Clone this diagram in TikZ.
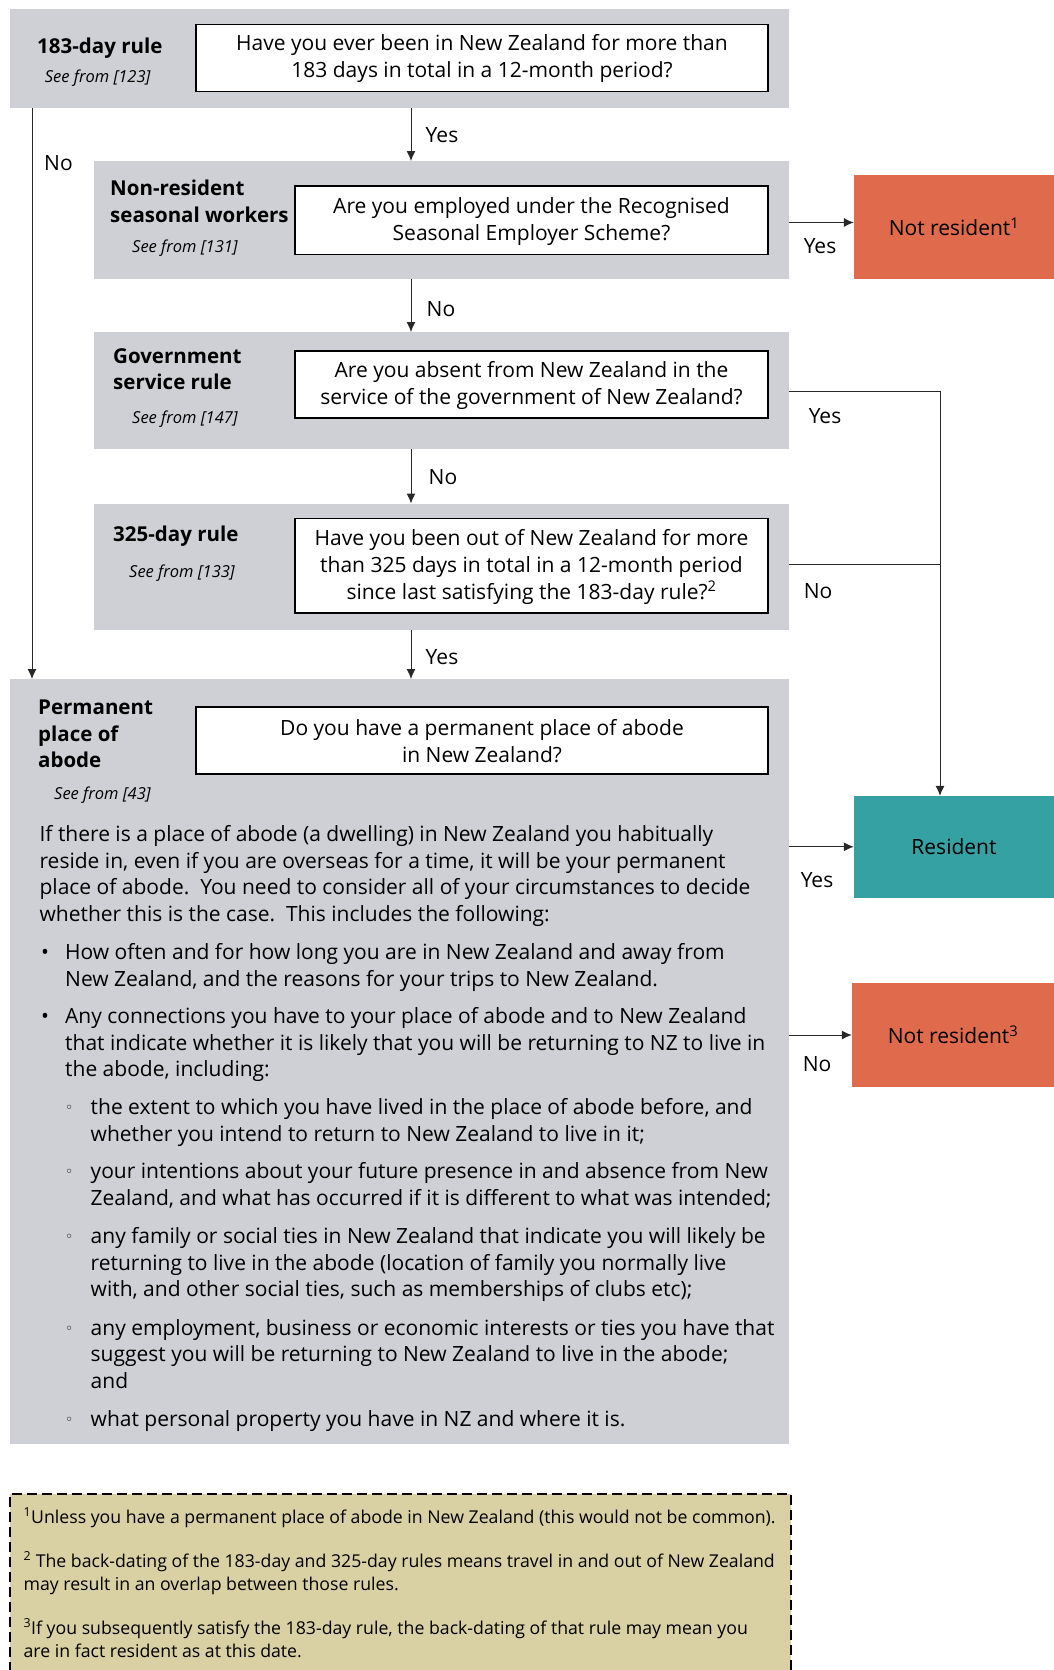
\documentclass[tikz,border=0pt]{standalone}
\usepackage{fontspec}
\setmainfont{Open Sans}
\newfontfamily\dejavu{DejaVu Sans}
\usetikzlibrary{arrows.meta}
\definecolor{gbox}{RGB}{206,208,213}
\definecolor{orng}{RGB}{224,107,76}
\definecolor{tealbox}{RGB}{54,161,162}
\definecolor{khaki}{RGB}{217,209,163}
\definecolor{lnc}{RGB}{40,40,40}
\begin{document}
\begin{tikzpicture}[x=1pt,y=-1pt,
  graybox/.style={fill=gbox, draw=none, anchor=north west, inner sep=0pt},
  qbox/.style={fill=white, draw=black, line width=1.4pt, inner sep=0pt, align=center,
     font=\fontsize{21}{27}\selectfont},
  outbox/.style={draw=none, inner sep=0pt, font=\fontsize{21}{24}\selectfont},
  head/.style={anchor=base west, inner sep=0pt, font=\fontsize{20.5}{24}\selectfont\bfseries},
  seefrom/.style={anchor=base west, inner sep=0pt, font=\fontsize{16.5}{18}\selectfont\itshape},
  lbl/.style={inner sep=0pt, font=\fontsize{21}{24}\selectfont},
  ptxt/.style={anchor=base west, inner sep=0pt, font=\fontsize{21}{24}\selectfont},
  circ/.style={anchor=base west, inner sep=0pt, font=\fontsize{14}{16}\selectfont\dejavu},
  ftxt/.style={anchor=base west, inner sep=0pt, font=\fontsize{17.7}{22}\selectfont},
  arr/.style={draw=lnc, line width=1pt, -{Latex[length=10pt,width=9pt]}},
  ln/.style={draw=lnc, line width=1pt}]
\useasboundingbox (0,0) rectangle (1054,1670);

% gray panels
\node[graybox, minimum width=779.4pt, minimum height=99pt] (g1) at (9.6,8.5) {};
\node[graybox, minimum width=695pt, minimum height=118pt] (g2) at (94,161) {};
\node[graybox, minimum width=695pt, minimum height=117pt] (g3) at (94,332) {};
\node[graybox, minimum width=695pt, minimum height=126.5pt] (g4) at (94,503.5) {};
\node[graybox, minimum width=779.4pt, minimum height=765pt] (g5) at (9.6,679) {};

% question boxes
\node[qbox, minimum width=572pt, minimum height=67pt] (q1) at (482,58)
  {\rule{0pt}{18pt}Have you ever been in New Zealand for more than\\183 days in total in a 12-month period?};
\node[qbox, minimum width=473pt, minimum height=68.5pt] (q2) at (531.5,220.2)
  {\rule{0pt}{18pt}Are you employed under the Recognised\\Seasonal Employer Scheme?};
\node[qbox, minimum width=473pt, minimum height=67pt] (q3) at (531.5,384.5)
  {\rule{0pt}{18pt}Are you absent from New Zealand in the\\service of the government of New Zealand?};
\node[qbox, minimum width=473pt, minimum height=94.5pt] (q4) at (531.5,565.8)
  {\rule{0pt}{18pt}Have you been out of New Zealand for more\\than 325 days in total in a 12-month period\\since last satisfying the 183-day rule?\textsuperscript{2}};
\node[qbox, minimum width=572pt, minimum height=67pt] (q5) at (482,740.5)
  {\rule{0pt}{18pt}Do you have a permanent place of abode\\in New Zealand?};

% headings
\node[head] (h1) at (37,53.5) {183-day rule};
\node[seefrom] (s1) at (44.7,82) {See from [123]};
\node[head] (h2a) at (110,195.5) {Non-resident};
\node[head] (h2b) at (110,222.5) {seasonal workers};
\node[seefrom] (s2) at (132,252) {See from [131]};
\node[head] (h3a) at (113,363) {Government};
\node[head] (h3b) at (113,389.5) {service rule};
\node[seefrom] (s3) at (132,423) {See from [147]};
\node[head] (h4) at (113,541.5) {325-day rule};
\node[seefrom] (s4) at (129,577) {See from [133]};
\node[head] (h5a) at (38,714.5) {Permanent};
\node[head] (h5b) at (38,741) {place of};
\node[head] (h5c) at (38,767.5) {abode};
\node[seefrom] (s5) at (54,799) {See from [43]};

% outcome boxes
\node[outbox, fill=orng, minimum width=200pt, minimum height=104.4pt] (nr1) at (954,226.8)
  {Not resident\textsuperscript{1}};
\node[outbox, fill=tealbox, minimum width=200pt, minimum height=101.5pt] (res) at (954,846.8)
  {Resident};
\node[outbox, fill=orng, minimum width=202pt, minimum height=104pt] (nr3) at (953,1035)
  {Not resident\textsuperscript{3}};

% helper coordinates
\coordinate (cx) at (411,0);
\coordinate (nx) at (32,0);
\coordinate (rx) at (940,0);
\coordinate (y1) at (0,222.5);
\coordinate (y3) at (0,391);
\coordinate (y4) at (0,564);

% connectors
\draw[arr] (g1.south -| cx) -- (g2.north -| cx);
\draw[arr] (g2.south -| cx) -- (g3.north -| cx);
\draw[arr] (g3.south -| cx) -- (g4.north -| cx);
\draw[arr] (g4.south -| cx) -- (g5.north -| cx);
\draw[arr] (g1.south -| nx) -- (g5.north -| nx);
\draw[arr] (g2.east |- y1) -- (nr1.west |- y1);
\draw[arr] (g3.east |- y3) -- (rx |- y3) -- (res.north -| rx);
\draw[ln] (g4.east |- y4) -- (rx |- y4);
\draw[arr] (res.west -| g5.east) -- (res.west);
\draw[arr] (nr3.west -| g5.east) -- (nr3.west);

% labels
\node[lbl] (l1) at (442,135) {Yes};
\node[lbl] (l2) at (58.5,163) {No};
\node[lbl] (l3) at (820,246) {Yes};
\node[lbl] (l4) at (441,309) {No};
\node[lbl] (l5) at (825,416) {Yes};
\node[lbl] (l6) at (443,477) {No};
\node[lbl] (l7) at (818,591) {No};
\node[lbl] (l8) at (442,657) {Yes};
\node[lbl] (l9) at (817,880) {Yes};
\node[lbl] (l10) at (817,1064.5) {No};

% paragraph
\node[ptxt] (p1) at (39.4,841.5) {If there is a place of abode (a dwelling) in New Zealand you habitually};
\node[ptxt] (p2) at (39.4,868) {reside in, even if you are overseas for a time, it will be your permanent};
\node[ptxt] (p3) at (39.4,894.5) {place of abode.\ \ You need to consider all of your circumstances to decide};
\node[ptxt] (p4) at (39.4,921) {whether this is the case.\ \ This includes the following:};

\node[ptxt] (b1) at (41,959.5) {•};
\node[ptxt] (p5) at (65,959.5) {How often and for how long you are in New Zealand and away from};
\node[ptxt] (p6) at (65,986) {New Zealand, and the reasons for your trips to New Zealand.};
\node[ptxt] (b2) at (41,1023.5) {•};
\node[ptxt] (p7) at (65,1023.5) {Any connections you have to your place of abode and to New Zealand};
\node[ptxt] (p8) at (65,1050) {that indicate whether it is likely that you will be returning to NZ to live in};
\node[ptxt] (p9) at (65,1076.5) {the abode, including:};

\node[circ] (c1) at (65,1112.5) {◦};
\node[ptxt] (p10) at (90.5,1114.5) {the extent to which you have lived in the place of abode before, and};
\node[ptxt] (p11) at (90.5,1141.5) {whether you intend to return to New Zealand to live in it;};
\node[circ] (c2) at (65,1176.5) {◦};
\node[ptxt] (p12) at (90.5,1178.5) {your intentions about your future presence in and absence from New};
\node[ptxt] (p13) at (90.5,1205.5) {Zealand, and what has occurred if it is different to what was intended;};
\node[circ] (c3) at (65,1241.5) {◦};
\node[ptxt] (p14) at (90.5,1243.5) {any family or social ties in New Zealand that indicate you will likely be};
\node[ptxt] (p15) at (90.5,1270.5) {returning to live in the abode (location of family you normally live};
\node[ptxt] (p16) at (90.5,1296.5) {with, and other social ties, such as memberships of clubs etc);};
\node[circ] (c4) at (65,1333) {◦};
\node[ptxt] (p17) at (90.5,1335) {any employment, business or economic interests or ties you have that};
\node[ptxt] (p18) at (90.5,1361.5) {suggest you will be returning to New Zealand to live in the abode;};
\node[ptxt] (p19) at (90.5,1388.5) {and};
\node[circ] (c5) at (65,1424.5) {◦};
\node[ptxt] (p20) at (90.5,1426.5) {what personal property you have in NZ and where it is.};

% footnotes box
\fill[khaki] (9.6,1494) rectangle (790.6,1670);
\draw[black, line width=1.8pt, dash pattern=on 10pt off 5pt] (9.6,1672) -- (9.6,1494) -- (790.6,1494) -- (790.6,1672);
\node[ftxt] (f1) at (23.4,1523) {\textsuperscript{1}Unless you have a permanent place of abode in New Zealand (this would not be common).};
\node[ftxt] (f2) at (23.4,1567) {\textsuperscript{2} The back-dating of the 183-day and 325-day rules means travel in and out of New Zealand};
\node[ftxt] (f3) at (23.4,1590) {may result in an overlap between those rules.};
\node[ftxt] (f4) at (23.4,1634) {\textsuperscript{3}If you subsequently satisfy the 183-day rule, the back-dating of that rule may mean you};
\node[ftxt] (f5) at (23.4,1657) {are in fact resident as at this date.};
\end{tikzpicture}
\end{document}
